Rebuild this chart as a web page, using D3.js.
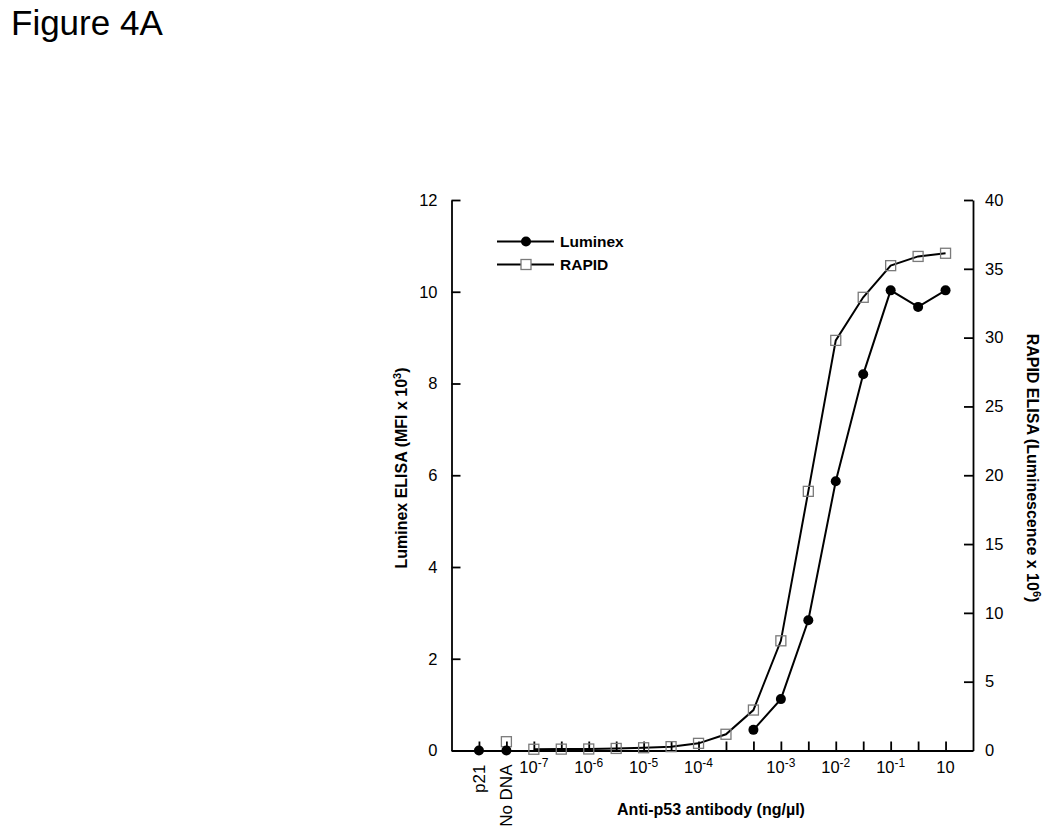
<!DOCTYPE html>
<html lang="en">
  <head>
    <meta charset="UTF-8">
    <script type="text/javascript" src="https://cdn.jsdelivr.net/npm/d3@7"></script>
    <style>
      body { margin: 0; background: #fff; }
      text { font-family: 'Liberation Sans', Arial, sans-serif; fill: #000; }
    </style>
    <title>Figure 4A</title>
  </head>
  <body>
    <script type="text/javascript">
      // Figure 4A: Luminex vs RAPID ELISA, two y axes

      let w = 1050;
      let h = 831;

      // x categories: two controls, then antibody dilutions (ng/ul)
      let categories = ['p21', 'No DNA', '1e-7', '3e-7', '1e-6', '3e-6', '1e-5', '3e-5',
                        '1e-4', '2e-4', '5e-4', '1e-3', '3e-3', '1e-2', '3e-2', '1e-1', '1', '10'];
      let controls = ['p21', 'No DNA'];

      // Luminex ELISA (MFI x 10^3), left axis
      let luminex = [0, 0, null, null, null, null, null, null,
                     null, null, 0.45, 1.12, 2.84, 5.87, 8.2, 10.03, 9.67, 10.03];
      // RAPID ELISA (Luminescence x 10^6), right axis
      let rapid = [null, 0.64, 0.09, 0.1, 0.11, 0.15, 0.2, 0.28,
                   0.52, 1.18, 2.94, 7.97, 18.83, 29.8, 32.93, 35.23, 35.9, 36.13];

      // labelled x ticks
      let tickCats = ['1e-7', '1e-6', '1e-5', '1e-4', '1e-3', '1e-2', '1e-1', '10'];
      let tickBase = ['10', '10', '10', '10', '10', '10', '10', '10'];
      let tickExp  = ['-7', '-6', '-5', '-4', '-3', '-2', '-1', ''];

      let plotL = 451.5, plotR = 973, plotT = 200, plotB = 750.5;

      let xScale = d3.scalePoint()
                      .domain(categories)
                      .range([plotL, plotR])
                      .padding(1);

      let yLeft = d3.scaleLinear().domain([0, 12]).range([plotB, plotT]);
      let yRight = d3.scaleLinear().domain([0, 40]).range([plotB, plotT]);

      let svg = d3.select('body')
                  .append('svg')
                  .attr('width', w)
                  .attr('height', h);

      svg.append('text')
          .attr('x', 11)
          .attr('y', 35)
          .attr('font-size', '35px')
          .text('Figure 4A');

      // Axes (ticks point inward)
      let axisL = svg.append('g')
          .attr('transform', `translate(${plotL},0)`)
          .call(d3.axisLeft(yLeft).tickValues(d3.range(0, 13, 2))
                .tickSizeInner(-9).tickSizeOuter(0).tickPadding(14));

      let axisR = svg.append('g')
          .attr('transform', `translate(${plotR},0)`)
          .call(d3.axisRight(yRight).tickValues(d3.range(0, 41, 5))
                .tickSizeInner(-9).tickSizeOuter(0).tickPadding(12));

      let axisB = svg.append('g')
          .attr('transform', `translate(0,${plotB})`)
          .call(d3.axisBottom(xScale).tickFormat('')
                .tickSizeInner(-9).tickSizeOuter(0));

      [axisL, axisR, axisB].forEach(a => {
        a.selectAll('path, line').attr('stroke', '#000').attr('stroke-width', 1.8);
        a.selectAll('text')
          .attr('font-size', '16.5px')
          .attr('font-family', "'Liberation Sans', Arial, sans-serif")
          .attr('fill', '#000');
      });

      // x tick labels: powers of ten
      let xl = svg.append('g');
      tickCats.forEach((c, i) => {
        let t = xl.append('text')
            .attr('x', xScale(c))
            .attr('y', plotB + 22)
            .attr('text-anchor', 'middle')
            .attr('font-size', '16.5px');
        t.append('tspan').text(tickBase[i]);
        if (tickExp[i]) {
          t.append('tspan').attr('dy', -6).attr('font-size', '12px').text(tickExp[i]);
        }
      });

      // control labels, rotated
      controls.forEach(c => {
        svg.append('text')
            .attr('transform', `translate(${xScale(c) + 6},${plotB + 14}) rotate(-90)`)
            .attr('text-anchor', 'end')
            .attr('font-size', '17px')
            .text(c);
      });

      // Axis titles
      svg.append('text')
          .attr('x', 711)
          .attr('y', 815)
          .attr('text-anchor', 'middle')
          .attr('font-size', '16px')
          .attr('font-weight', 'bold')
          .text('Anti-p53 antibody (ng/\u00b5l)');

      let tl = svg.append('text')
          .attr('transform', `translate(407,468) rotate(-90)`)
          .attr('text-anchor', 'middle')
          .attr('font-size', '16px')
          .attr('font-weight', 'bold');
      tl.append('tspan').text('Luminex ELISA (MFI x 10');
      tl.append('tspan').attr('dy', -6).attr('font-size', '11px').text('3');
      tl.append('tspan').attr('dy', 6).text(')');

      let tr = svg.append('text')
          .attr('transform', `translate(1027,468) rotate(90)`)
          .attr('text-anchor', 'middle')
          .attr('font-size', '16px')
          .attr('font-weight', 'bold');
      tr.append('tspan').text('RAPID ELISA (Luminescence x 10');
      tr.append('tspan').attr('dy', -6).attr('font-size', '11px').text('6');
      tr.append('tspan').attr('dy', 6).text(')');

      // Series
      let lumData = categories.map((c, i) => ({c: c, v: luminex[i]})).filter(d => d.v !== null);
      let rapData = categories.map((c, i) => ({c: c, v: rapid[i]})).filter(d => d.v !== null);

      let lineL = d3.line().x(d => xScale(d.c)).y(d => yLeft(d.v));
      let lineR = d3.line().x(d => xScale(d.c)).y(d => yRight(d.v));

      svg.append('path')
          .datum(rapData.filter(d => !controls.includes(d.c)))
          .attr('d', lineR)
          .attr('fill', 'none')
          .attr('stroke', '#000')
          .attr('stroke-width', 2);

      svg.append('path')
          .datum(lumData.filter(d => !controls.includes(d.c)))
          .attr('d', lineL)
          .attr('fill', 'none')
          .attr('stroke', '#000')
          .attr('stroke-width', 2);

      svg.selectAll('rect.rapid')
          .data(rapData)
          .enter()
          .append('rect')
          .attr('class', 'rapid')
          .attr('x', d => xScale(d.c) - 5)
          .attr('y', d => yRight(d.v) - 5)
          .attr('width', 10)
          .attr('height', 10)
          .attr('fill', 'none')
          .attr('stroke', '#7a7a7a')
          .attr('stroke-width', 1.3);

      svg.selectAll('circle.lum')
          .data(lumData)
          .enter()
          .append('circle')
          .attr('class', 'lum')
          .attr('cx', d => xScale(d.c))
          .attr('cy', d => yLeft(d.v))
          .attr('r', 5)
          .attr('fill', '#000');

      // Legend
      let legend = svg.append('g');
      let legY = [241.5, 264.5];
      legend.selectAll('line')
          .data(legY)
          .enter()
          .append('line')
          .attr('x1', 497).attr('x2', 554)
          .attr('y1', d => d).attr('y2', d => d)
          .attr('stroke', '#000')
          .attr('stroke-width', 2);
      legend.append('circle')
          .attr('cx', 526).attr('cy', legY[0]).attr('r', 5).attr('fill', '#000');
      legend.append('rect')
          .attr('x', 521).attr('y', legY[1] - 5)
          .attr('width', 10).attr('height', 10)
          .attr('fill', '#fff')
          .attr('stroke', '#7a7a7a')
          .attr('stroke-width', 1.3);
      legend.selectAll('text')
          .data(['Luminex', 'RAPID'])
          .enter()
          .append('text')
          .attr('x', 560)
          .attr('y', (d, i) => legY[i] + 5.5)
          .attr('font-size', '15.5px')
          .attr('font-weight', 'bold')
          .text(d => d);
    </script>
  </body>
</html>
